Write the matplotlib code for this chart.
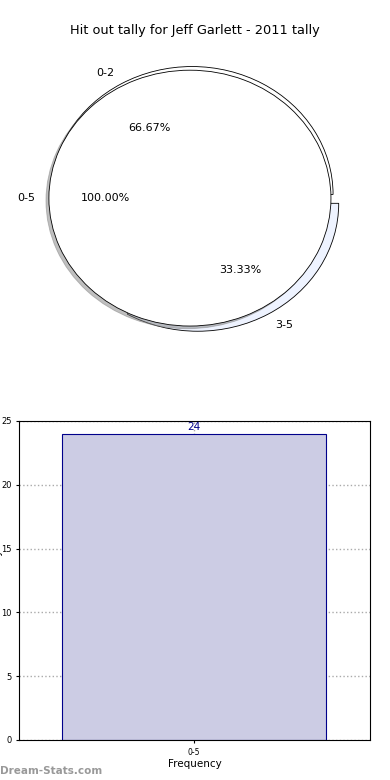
import matplotlib
matplotlib.use('Agg')
import matplotlib.pyplot as plt

title = 'Hit out tally for Jeff Garlett - 2011 tally'
all_labels = ['0-5']
all_values = [24]
split_labels = ['0-2', '3-5']
split_values = [16, 8]
bar_labels = ['0-5']
bar_values = [24]

fig = plt.figure(figsize=(3.9, 7.8), dpi=100)

# pie part: the split pie sits underneath the full one
ax1 = fig.add_axes([0.035, 0.541, 0.904, 0.41])
ax1.pie(split_values, labels=split_labels, autopct='%.2f%%', center=(0.02, 0.02),
        explode=(0.01, 0.07), colors=['white', '#eef3ff'],
        wedgeprops=dict(edgecolor='black', linewidth=0.6, zorder=0.5),
        textprops=dict(fontsize=8))
ax1.pie(all_values, labels=all_labels, autopct='%.2f%%',
        shadow={'ox': -0.015, 'oy': -0.015, 'shade': 0.5},
        colors=['white'], wedgeprops=dict(edgecolor='black', linewidth=0.6),
        textprops=dict(fontsize=8))
ax1.set_aspect('auto')
ax1.set_xlim(-1.25, 1.25)
ax1.set_ylim(-1.25, 1.25)
fig.text(0.5, 0.961, title, ha='center', va='center', fontsize=9.3)

# bar part
ax2 = fig.add_axes([0.049, 0.0513, 0.9, 0.409])
x = range(len(bar_values))
ax2.bar(x, bar_values, width=0.8, color='#ccccE4', edgecolor='#00008b',
        linewidth=0.8, zorder=2)
for i, v in zip(x, bar_values):
    ax2.text(i, v + 0.1, str(v), ha='center', va='bottom', color='#00008b',
             fontsize=7.5)
ax2.set_xticks(list(x))
ax2.set_xticklabels(bar_labels, fontsize=5.5)
ax2.set_xlim(-0.53, 0.535)
ax2.set_ylim(0, 25)
ax2.set_yticks([0, 5, 10, 15, 20, 25])
ax2.tick_params(axis='y', labelsize=6, length=2)
ax2.tick_params(axis='x', length=2)
ax2.grid(True, linestyle=':', color='#aaaaaa', linewidth=1, zorder=3)
for s in ax2.spines.values():
    s.set_zorder(5)
ax2.set_xlabel('Frequency', fontsize=7.5, labelpad=2)
ax2.set_ylabel('Hit out Tally', fontsize=7.5)
ax2.yaxis.set_label_coords(-0.045, 0.5)

fig.text(0.0, 0.005, 'Dream-Stats.com', fontsize=7.5, fontweight='bold',
         color='#999999', ha='left', va='bottom')

fig.savefig('out.png', dpi=100)
